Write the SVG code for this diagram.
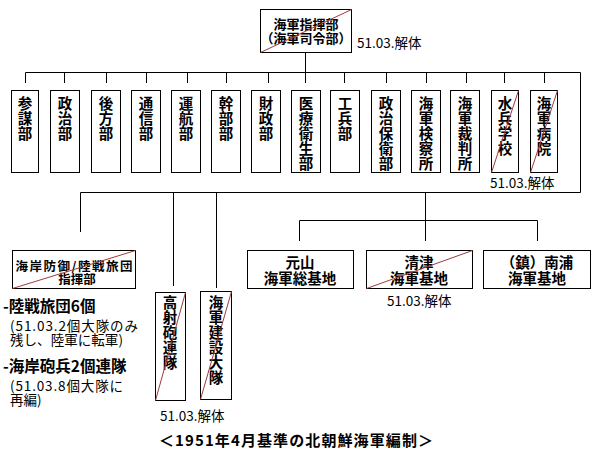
<svg xmlns="http://www.w3.org/2000/svg" width="600" height="450" viewBox="0 0 600 450">
<style>
text{font-family:"Noto Sans CJK JP","Noto Sans CJK SC",sans-serif;fill:#000}
.b{font-weight:bold}
.v{font-size:14.5px;font-weight:bold;text-anchor:middle}
.h{font-size:14.5px;font-weight:bold;text-anchor:middle}
.n{font-size:13.5px}
.box{fill:#fff;stroke:#000;stroke-width:1}
.ln{fill:none;stroke:#000;stroke-width:1}
.x{stroke:#a03a3a;stroke-width:1;fill:none}
</style>
<rect width="600" height="450" fill="#fff"/>
<g id="connectors" class="ln">
<path d="M305.5 52V72.5"/>
<path d="M25.5 72.5H580.5V192.5H80.5"/>
<path d="M25.5 72.5V83M64.5 72.5V83M106.5 72.5V83M146.5 72.5V83M187.5 72.5V83M226.5 72.5V83M268.5 72.5V83M305.5 72.5V83M344.5 72.5V83M386.5 72.5V83M426.5 72.5V83M466.5 72.5V83M504.5 72.5V83M544.5 72.5V83"/>
<path d="M80.5 192.5V232"/>
<path d="M173.5 192.5V286"/>
<path d="M216.5 192.5V288"/>
<path d="M425.5 192.5V220.5"/>
<path d="M299.5 220.5H537.5"/>
<path d="M299.5 220.5V241M425.5 220.5V241M537.5 220.5V241"/>
</g>
<g id="hq">
<rect class="box" x="260.5" y="9.5" width="91" height="43"/>
<text class="h" x="306" y="29" style="font-size:13px">海軍指揮部</text>
<text class="h" x="306" y="42.5" style="font-size:13px">（海軍司令部）</text>
<line class="x" x1="260.5" y1="52.5" x2="351.5" y2="9.5"/>
<text class="n" x="357" y="48">51.03.解体</text>
</g>
<g id="n1"><rect class="box" x="11.5" y="90.5" width="27" height="82"/><text class="v" x="25" y="109">参<tspan x="25" dy="15">謀</tspan><tspan x="25" dy="15">部</tspan></text></g>
<g id="n2"><rect class="box" x="50.5" y="90.5" width="29" height="82"/><text class="v" x="65" y="109">政<tspan x="65" dy="15">治</tspan><tspan x="65" dy="15">部</tspan></text></g>
<g id="n3"><rect class="box" x="91.5" y="90.5" width="29" height="82"/><text class="v" x="106" y="109">後<tspan x="106" dy="15">方</tspan><tspan x="106" dy="15">部</tspan></text></g>
<g id="n4"><rect class="box" x="131.5" y="90.5" width="29" height="82"/><text class="v" x="146" y="109">通<tspan x="146" dy="15">信</tspan><tspan x="146" dy="15">部</tspan></text></g>
<g id="n5"><rect class="box" x="171.5" y="90.5" width="29" height="82"/><text class="v" x="186" y="109">運<tspan x="186" dy="15">航</tspan><tspan x="186" dy="15">部</tspan></text></g>
<g id="n6"><rect class="box" x="211.5" y="90.5" width="29" height="82"/><text class="v" x="226" y="109">幹<tspan x="226" dy="15">部</tspan><tspan x="226" dy="15">部</tspan></text></g>
<g id="n7"><rect class="box" x="251.5" y="90.5" width="29" height="82"/><text class="v" x="266" y="109">財<tspan x="266" dy="15">政</tspan><tspan x="266" dy="15">部</tspan></text></g>
<g id="n8"><rect class="box" x="291.5" y="90.5" width="29" height="82"/><text class="v" x="306" y="109">医<tspan x="306" dy="15">療</tspan><tspan x="306" dy="15">衛</tspan><tspan x="306" dy="15">生</tspan><tspan x="306" dy="15">部</tspan></text></g>
<g id="n9"><rect class="box" x="330.5" y="90.5" width="29" height="82"/><text class="v" x="345" y="109">工<tspan x="345" dy="15">兵</tspan><tspan x="345" dy="15">部</tspan></text></g>
<g id="n10"><rect class="box" x="371.5" y="90.5" width="29" height="82"/><text class="v" x="386" y="109">政<tspan x="386" dy="15">治</tspan><tspan x="386" dy="15">保</tspan><tspan x="386" dy="15">衛</tspan><tspan x="386" dy="15">部</tspan></text></g>
<g id="n11"><rect class="box" x="411.5" y="90.5" width="29" height="82"/><text class="v" x="426" y="109">海<tspan x="426" dy="15">軍</tspan><tspan x="426" dy="15">検</tspan><tspan x="426" dy="15">察</tspan><tspan x="426" dy="15">所</tspan></text></g>
<g id="n12"><rect class="box" x="450.5" y="90.5" width="29" height="82"/><text class="v" x="465" y="109">海<tspan x="465" dy="15">軍</tspan><tspan x="465" dy="15">裁</tspan><tspan x="465" dy="15">判</tspan><tspan x="465" dy="15">所</tspan></text></g>
<g id="n13"><rect class="box" x="491.5" y="90.5" width="27" height="82"/><text class="v" x="505" y="109">水<tspan x="505" dy="15">兵</tspan><tspan x="505" dy="15">学</tspan><tspan x="505" dy="15">校</tspan></text><line class="x" x1="491.5" y1="172.5" x2="518.5" y2="90.5"/></g>
<g id="n14"><rect class="box" x="530.5" y="90.5" width="27" height="82"/><text class="v" x="544" y="109">海<tspan x="544" dy="15">軍</tspan><tspan x="544" dy="15">病</tspan><tspan x="544" dy="15">院</tspan></text><line class="x" x1="530.5" y1="172.5" x2="557.5" y2="90.5"/></g>
<text class="n" x="490" y="188">51.03.解体</text>
<g id="coast">
<rect class="box" x="12.5" y="250.5" width="123" height="38"/>
<text class="h" x="74" y="271" style="font-size:12.5px" textLength="117" lengthAdjust="spacing">海岸防御/陸戦旅団</text>
<text class="h" x="77" y="284" style="font-size:12.5px">指揮部</text>
<line class="x" x1="12.5" y1="288.5" x2="135.5" y2="250.5"/>
</g>
<g id="coast-list">
<text class="b" x="3" y="312" style="font-size:15.5px">-陸戦旅団6個</text>
<text x="10" y="331" style="font-size:13.5px" textLength="128" lengthAdjust="spacing">(51.03.2個大隊のみ</text>
<text x="10" y="345" style="font-size:13.5px" textLength="113" lengthAdjust="spacing">残し、陸軍に転軍)</text>
<text class="b" x="3" y="372" style="font-size:15.5px">-海岸砲兵2個連隊</text>
<text x="10" y="391" style="font-size:13.5px" textLength="113" lengthAdjust="spacing">(51.03.8個大隊に</text>
<text x="10" y="405" style="font-size:13.5px">再編)</text>
</g>
<g id="aa"><rect class="box" x="155.5" y="292.5" width="30" height="108"/><text class="v" x="170" y="308">高<tspan x="170" dy="15">射</tspan><tspan x="170" dy="15">砲</tspan><tspan x="170" dy="15">連</tspan><tspan x="170" dy="15">隊</tspan></text><line class="x" x1="155.5" y1="400.5" x2="185.5" y2="292.5"/></g>
<g id="const"><rect class="box" x="200.5" y="291.5" width="31" height="108"/><text class="v" x="216" y="308">海<tspan x="216" dy="15">軍</tspan><tspan x="216" dy="15">建</tspan><tspan x="216" dy="15">設</tspan><tspan x="216" dy="15">大</tspan><tspan x="216" dy="15">隊</tspan></text><line class="x" x1="200.5" y1="399.5" x2="231.5" y2="291.5"/></g>
<text class="n" x="160" y="421">51.03.解体</text>
<g id="wonsan"><rect class="box" x="247.5" y="250.5" width="106" height="38"/><text class="h" x="300" y="268">元山</text><text class="h" x="300" y="284">海軍総基地</text></g>
<g id="chongjin"><rect class="box" x="366.5" y="250.5" width="106" height="38"/><text class="h" x="419" y="268">清津</text><text class="h" x="419" y="284">海軍基地</text><line class="x" x1="366.5" y1="288.5" x2="472.5" y2="250.5"/></g>
<text class="n" x="387" y="306">51.03.解体</text>
<g id="nampo"><rect class="box" x="483.5" y="250.5" width="107" height="38"/><text class="h" x="537" y="268">（鎮）南浦</text><text class="h" x="537" y="284">海軍基地</text></g>
<text class="b" x="159" y="446" style="font-size:15px" textLength="274" lengthAdjust="spacing">＜1951年4月基準の北朝鮮海軍編制＞</text>
</svg>
